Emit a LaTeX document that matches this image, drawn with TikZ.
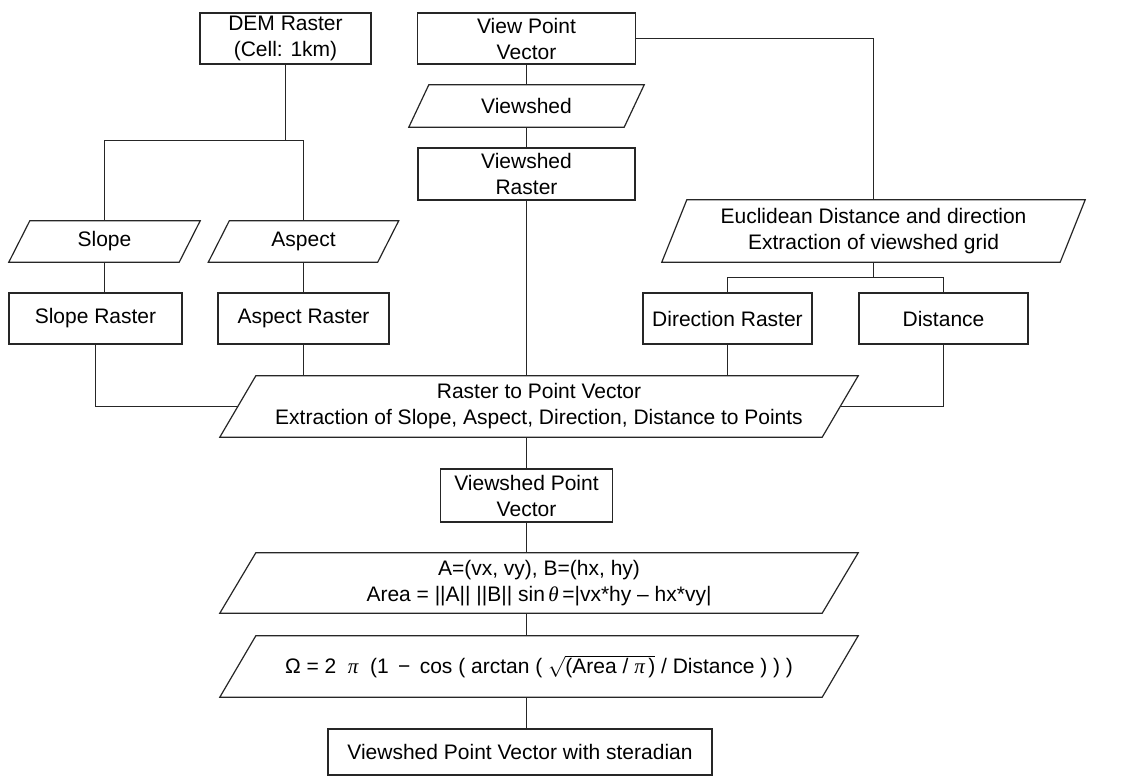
\documentclass[tikz,border=0pt]{standalone}
\usepackage{fontspec}
\setmainfont{Liberation Sans}
\newfontfamily\symfont{Liberation Serif}
\usetikzlibrary{calc}
\newcommand\pisym{{\symfont\itshape π}}
\newcommand\thetasym{{\symfont\itshape θ}}
\newcommand\parashape[2]{\draw[edge] ([xshift=#2]#1.north west) -- (#1.north east) -- ([xshift=-#2]#1.south east) -- (#1.south west) -- cycle;}
\tikzset{
  edge/.style={draw=black!85, line width=1.2pt},
  box/.style={draw=black!85, line width=1.2pt, inner sep=0pt, align=center, font=\fontsize{21}{26}\selectfont},
  pbox/.style={inner sep=0pt, align=center, font=\fontsize{21}{26}\selectfont},
}
\begin{document}
\begin{tikzpicture}[x=1pt,y=-1pt]
\useasboundingbox[fill=white] (0,0) rectangle (1137,776);
% top row
\node[box, minimum width=171pt, minimum height=51pt] (dem) at (285.5,38.5) {DEM Raster\\(Cell: 1km)};
\node[box, minimum width=218pt, minimum height=51pt] (vpv) at (526.5,38.5) {View Point\\Vector};
\node[pbox, minimum width=235pt, minimum height=42pt] (vs) at (526.5,106) {Viewshed};
\parashape{vs}{20pt}
\node[box, minimum width=217pt, minimum height=52pt] (vsr) at (526.5,174) {Viewshed\\Raster};
% left branch
\node[pbox, minimum width=191pt, minimum height=41pt] (slope) at (104.5,241.5) {Slope};
\parashape{slope}{21pt}
\node[pbox, minimum width=190pt, minimum height=41pt] (aspect) at (303.5,241.5) {Aspect};
\parashape{aspect}{21pt}
\node[box, minimum width=173pt, minimum height=51pt] (sloper) at (95.5,318.5) {Slope Raster};
\node[box, minimum width=171pt, minimum height=51pt] (aspectr) at (303.5,318.5) {Aspect Raster};
% right branch
\node[pbox, minimum width=423pt, minimum height=62pt] (eu) at (873.5,231) {Euclidean Distance and direction\\Extraction of viewshed grid};
\parashape{eu}{25pt}
\node[box, minimum width=169pt, minimum height=51pt] (dir) at (727.5,318.5) {Direction Raster};
\node[box, minimum width=169pt, minimum height=51pt] (dist) at (943.5,318.5) {Distance};
% merge
\node[pbox, minimum width=638pt, minimum height=61pt] (r2p) at (539,406.5) {Raster to Point Vector\\Extraction of Slope, Aspect, Direction, Distance to Points};
\parashape{r2p}{36pt}
\node[box, minimum width=172pt, minimum height=53pt] (vpv2) at (526.5,495.5) {Viewshed Point\\Vector};
\node[pbox, minimum width=638pt, minimum height=60pt] (area) at (539,583) {A=(vx, vy), B=(hx, hy)\\Area = ||A|| ||B|| sin\,\thetasym\,=|vx*hy – hx*vy|};
\parashape{area}{36pt}
\node[pbox, minimum width=638pt, minimum height=61pt] (omega) at (539,666.5) {Ω = 2 \ \pisym\ \ (1 \,−\, cos ( arctan ( $\sqrt{\mbox{(Area / \pisym\,)}}$ / Distance ) ) )};
\parashape{omega}{36pt}
\node[box, minimum width=384pt, minimum height=46pt] (final) at (520,752) {Viewshed Point Vector with steradian};
% connectors
\coordinate (dj) at (285.5,140.5);
\coordinate (ej) at (873.5,277.5);
\draw[edge] (dem.south) -- (dj);
\draw[edge] (slope.north) |- (dj) -| (aspect.north);
\draw[edge] (slope.south) -- (slope.south |- sloper.north);
\draw[edge] (aspect.south) -- (aspect.south |- aspectr.north);
\draw[edge] (vpv.south) -- (vs.north);
\draw[edge] (vs.south) -- (vsr.north);
\draw[edge] (vsr.south) -- (vsr.south |- r2p.north);
\draw[edge] (vpv.east) -| (eu.north);
\draw[edge] (eu.south) -- (ej);
\draw[edge] (dir.north) |- (ej) -| (dist.north);
\draw[edge] (sloper.south) |- ($(r2p.west)+(18,0)$);
\draw[edge] (aspectr.south) -- (aspectr.south |- r2p.north);
\draw[edge] (dir.south) -- (dir.south |- r2p.north);
\draw[edge] (dist.south) |- ($(r2p.east)+(-18,0)$);
\draw[edge] (vsr.south |- r2p.south) -- (vpv2.north);
\draw[edge] (vpv2.south) -- (vpv2.south |- area.north);
\draw[edge] (vpv2.south |- area.south) -- (vpv2.south |- omega.north);
\draw[edge] (vpv2.south |- omega.south) -- (vpv2.south |- final.north);
\end{tikzpicture}
\end{document}
